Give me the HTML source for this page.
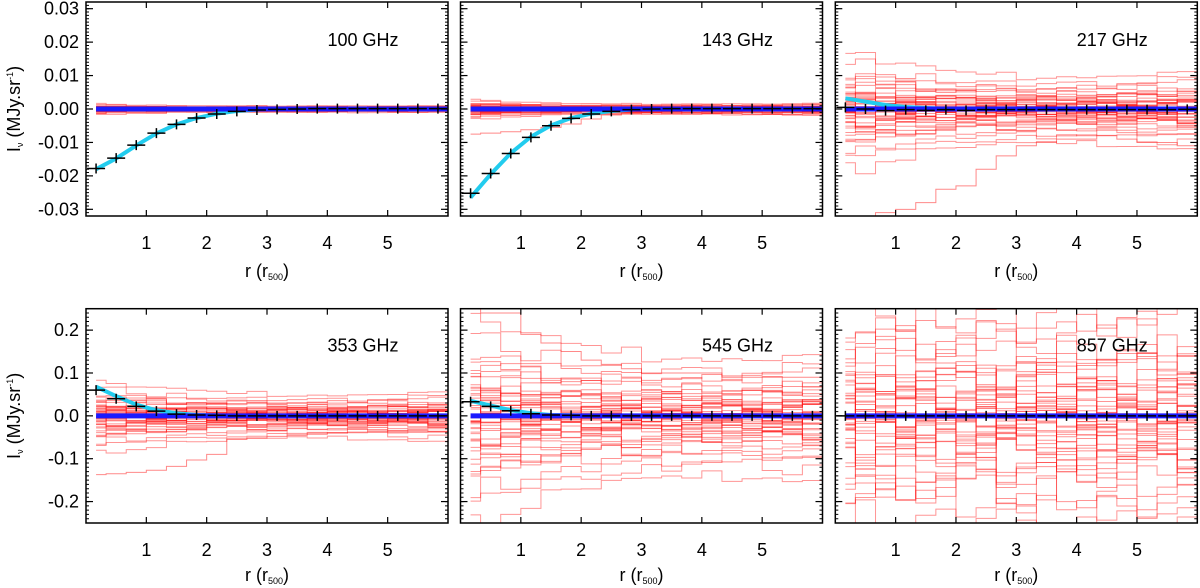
<!DOCTYPE html>
<html><head><meta charset="utf-8"><style>
html,body{margin:0;padding:0;background:#fff;overflow:hidden;width:1200px;height:588px;}
svg{display:block;font-family:"Liberation Sans",sans-serif;}
</style></head><body>
<svg id="chart" width="1200" height="588" viewBox="0 0 1200 588" xmlns="http://www.w3.org/2000/svg"></svg>
<script>
// ---- data ----
const freqLabels = ["100 GHz","143 GHz","217 GHz","353 GHz","545 GHz","857 GHz"];
const binCenters = [0.167,0.5,0.833,1.167,1.5,1.833,2.167,2.5,2.833,3.167,3.5,3.833,4.167,4.5,4.833,5.167,5.5,5.833];
const xTicks = [1,2,3,4,5];
const yTicksTop = [-0.03,-0.02,-0.01,0,0.01,0.02,0.03];
const yTickLabelsTop = ["-0.03","-0.02","-0.01","0.00","0.01","0.02","0.03"];
const yTicksBot = [-0.2,-0.1,0,0.1,0.2];
const yTickLabelsBot = ["-0.2","-0.1","0.0","0.1","0.2"];
const stack100 = [-0.0178,-0.0147,-0.0108,-0.0072,-0.0046,-0.0027,-0.0015,-0.0007,-0.0003,-0.0001,0,0.0001,0.0001,0.0001,0.0001,0.0001,0.0001,0.0001];
const stack143 = [-0.0252,-0.0193,-0.0133,-0.0085,-0.0050,-0.0028,-0.0015,-0.0007,-0.0002,0,0.0001,0.0001,0.0001,0.0001,0.0001,0.0001,0.0001,0.0001];
const stack217 = [0.0005,0,-0.0005,-0.0002,-0.0004,-0.0002,-0.0004,-0.0002,-0.0002,-0.0002,-0.0002,-0.0002,-0.0002,-0.0002,-0.0002,-0.0002,-0.0002,-0.0001];
const stack353 = [0.060,0.040,0.022,0.011,0.004,0.002,0.001,0,0,0,0,0,0,0,0,0,0,0];
const stack545 = [0.033,0.022,0.012,0.005,0.002,0.001,0,0,0,0,0,0,0,0,0,0,0,0];
const stack857 = [0,0,0,0,0,0,0,0,0,0,0,0,0,0,0,0,0,0];
const model100 = [-0.0180,-0.0148,-0.0109,-0.0073,-0.0046,-0.0027,-0.0014,-0.0006,-0.0002,0,0.0001,0.0001,0.0001,0.0001,0.0001,0.0001,0.0001,0.0001];
const model143 = [-0.0265,-0.0195,-0.0132,-0.0083,-0.0049,-0.0027,-0.0014,-0.0006,-0.0002,0,0.0001,0.0001,0.0001,0.0001,0.0001,0.0001,0.0001,0.0001];
const model217 = [0.0032,0.0022,0.0012,0.0006,0.0003,0.0001,0,0,0,0,0,0,0,0,0,0,0,0];
const model353 = [0.068,0.046,0.026,0.013,0.006,0.002,0.001,0,0,0,0,0,0,0,0,0,0,0];
const model545 = [0.035,0.024,0.013,0.006,0.002,0.001,0,0,0,0,0,0,0,0,0,0,0,0];
const model857 = [0,0,0,0,0,0,0,0,0,0,0,0,0,0,0,0,0,0];
const spread100 = [0.0008,0.0007,0.0006,0.0006,0.0005,0.0005,0.0005,0.0005,0.0005,0.0005,0.0005,0.0005,0.0005,0.0005,0.0005,0.0005,0.0005,0.0005];
const spread143 = [0.0014,0.0013,0.0011,0.0010,0.0009,0.0008,0.0008,0.0008,0.0008,0.0008,0.0008,0.0008,0.0008,0.0008,0.0008,0.0008,0.0008,0.0009];
const spread217 = [0.0080,0.0085,0.0072,0.0068,0.0062,0.0058,0.0054,0.0054,0.0052,0.0050,0.0050,0.0050,0.0050,0.0050,0.0052,0.0054,0.0056,0.0058];
const spread353 = [0.040,0.038,0.036,0.033,0.031,0.030,0.028,0.027,0.027,0.026,0.025,0.025,0.025,0.025,0.026,0.027,0.028,0.029];
const spread545 = [0.115,0.110,0.105,0.096,0.090,0.085,0.080,0.076,0.076,0.072,0.072,0.070,0.068,0.068,0.068,0.070,0.072,0.074];
const spread857 = [0.16,0.16,0.17,0.16,0.16,0.16,0.16,0.16,0.16,0.16,0.16,0.16,0.16,0.16,0.16,0.16,0.16,0.16];
const jitterScale = [0.3,0.3,0.3,0.3,0.3,0.45];
const curveLevels = [-2.1,-1.7,-1.45,-1.25,-1.1,-0.95,-0.82,-0.7,-0.6,-0.5,-0.42,-0.34,-0.26,-0.18,-0.1,-0.04,0.02,0.08,0.14,0.2,0.27,0.34,0.42,0.5,0.6,0.7,0.82,0.95,1.1,1.3,1.55,1.9,-0.3,0.3,-0.15,0.12,-0.55,0.45,-1.0,1.0,-0.22,0.05,-0.08,0.18,-0.38,0.38,0.0,-0.65,0.65,-0.12];
const curveJitter = [0.3,-0.2,0.5,-0.6,0.1,0.4,-0.3,-0.1,0.7,-0.5,0.2,-0.4,0.6,0.0,-0.7,0.3,-0.2,0.5,-0.1,0.2,-0.6,0.4,0.1,-0.3,0.6,-0.5,0.0,0.3,-0.4,0.2,0.5,-0.2,-0.6,0.1,0.4,-0.1,0.7,-0.3,0.2,-0.5,0.3];
const outlier143 = [-0.0075,-0.0072,-0.0068,-0.0062,-0.0055,-0.0045,-0.0030,-0.0018,-0.0012,-0.0010,-0.0010,-0.0012,-0.0014,-0.0014,-0.0016,-0.0016,-0.0018,-0.0018];
const outlier217 = [-0.032,-0.032,-0.031,-0.030,-0.028,-0.024,-0.023,-0.018,-0.014,-0.011,-0.010,-0.009,-0.009,-0.008,-0.009,-0.010,-0.010,-0.011];
const outlier353 = [-0.137,-0.135,-0.132,-0.127,-0.118,-0.103,-0.090,-0.055,-0.052,-0.048,-0.045,-0.043,-0.040,-0.038,-0.036,-0.035,-0.034,-0.036];
const outlier545 = [0.25,0.24,0.24,0.19,0.17,0.15,0.13,0.12,0.11,0.10,0.10,0.10,0.10,0.09,0.09,0.09,0.09,0.09];

const panels = [
 {stack:stack100,model:model100,spread:spread100,out:null,ymax:0.032,row:0,col:0},
 {stack:stack143,model:model143,spread:spread143,out:outlier143,ymax:0.032,row:0,col:1},
 {stack:stack217,model:model217,spread:spread217,out:outlier217,ymax:0.032,row:0,col:2},
 {stack:stack353,model:model353,spread:spread353,out:outlier353,ymax:0.25,row:1,col:0},
 {stack:stack545,model:model545,spread:spread545,out:outlier545,ymax:0.25,row:1,col:1},
 {stack:stack857,model:model857,spread:spread857,out:null,ymax:0.25,row:1,col:2}
];
const NS="http://www.w3.org/2000/svg";
const svg=document.getElementById('chart');
function mk(tag,attrs,parent){const e=document.createElementNS(NS,tag);for(const k in attrs)e.setAttribute(k,attrs[k]);(parent||svg).appendChild(e);return e;}
const lefts=[86,460.5,835.3], W=362;
const tops=[2,308.7], H=[214,214.3];
panels.forEach((p,i)=>{
  const L=lefts[p.col], T=tops[p.row], Hh=H[p.row];
  const g=mk('g',{});
  
  
  const xs=r=>L+r/6*W;
  const ys=v=>T+Hh/2 - v/p.ymax*(Hh/2);
  const clip=mk('clipPath',{id:'c'+i},g);
  mk('rect',{x:L,y:T,width:W,height:Hh},clip);
  const pg=mk('g',{'clip-path':'url(#c'+i+')'},g);
  function stepPath(vals){
    let d='M'+xs(binCenters[0])+','+ys(vals[0]);
    for(let b=0;b<vals.length;b++){
      const x1=b<vals.length-1?xs((b+1)/3):xs(6);
      d+=' L'+x1+','+ys(vals[b]);
      if(b<vals.length-1)d+=' L'+x1+','+ys(vals[b+1]);
    }
    return d;
  }
  const js=jitterScale[i];
  curveLevels.forEach((lv,ci)=>{
    const vals=p.spread.map((s,b)=>(lv+curveJitter[(ci*7+b*3)%curveJitter.length]*js)*s);
    const e=mk('path',{d:stepPath(vals),fill:'none',stroke:'rgba(255,20,20,0.45)','stroke-width':1},pg);
    
    
  });
  if(p.out){const e=mk('path',{d:stepPath(p.out),fill:'none',stroke:'rgba(255,20,20,0.5)','stroke-width':1},pg);
    
    }
  let d='';
  p.model.forEach((v,b)=>{d+=(b?' L':'M')+xs(binCenters[b])+','+ys(v);});
  d+=' L'+xs(6)+','+ys(p.model[p.model.length-1]);
  const cy=mk('path',{d:d,fill:'none',stroke:'#22ccee','stroke-width':4,'stroke-linejoin':'round'},pg);
  
  
  const bl=mk('line',{x1:xs(binCenters[0]),x2:xs(6),y1:ys(0),y2:ys(0),stroke:'#1a1aff','stroke-width':5},pg);
  
  
  p.stack.forEach((v,b)=>{
    const cx=xs(binCenters[b]),cyv=ys(v);
    const c=mk('path',{d:`M${cx-9},${cyv} L${cx+9},${cyv} M${cx},${cyv-5} L${cx},${cyv+5}`,stroke:'#000','stroke-width':1.5},pg);
    
    
  });
  mk('rect',{x:L,y:T,width:W,height:Hh,fill:'none',stroke:'#000','stroke-width':1.5},g);
  xTicks.forEach(t=>{
    const x=xs(t);
    mk('line',{x1:x,x2:x,y1:T+Hh,y2:T+Hh-6,stroke:'#000','stroke-width':1.2},g);
    mk('line',{x1:x,x2:x,y1:T,y2:T+6,stroke:'#000','stroke-width':1.2},g);
    const tl=mk('text',{x:x,y:T+Hh+33,'text-anchor':'middle','font-size':18},g);
    tl.textContent=t;
    
    
  });
  const yt=p.row?yTicksBot:yTicksTop, ytl=p.row?yTickLabelsBot:yTickLabelsTop;
  const minor=p.row?0.01:0.001;
  const nmin=Math.round(p.ymax/minor);
  let md='';
  for(let k=-nmin;k<=nmin;k++){const y=ys(k*minor);md+=`M${L},${y} L${L+3},${y} M${L+W},${y} L${L+W-3},${y} `;}
  mk('path',{d:md,stroke:'#000','stroke-width':1},g);
  yt.forEach((t,k)=>{
    const y=ys(t);
    mk('line',{x1:L,x2:L+7,y1:y,y2:y,stroke:'#000','stroke-width':1.2},g);
    mk('line',{x1:L+W,x2:L+W-7,y1:y,y2:y,stroke:'#000','stroke-width':1.2},g);
    if(p.col===0){const tl=mk('text',{x:L-7,y:y+6,'text-anchor':'end','font-size':18},g);
      tl.textContent=ytl[k];
      
      }
  });
  const fl=mk('text',{x:L+277,y:T+(p.row?43:44),'text-anchor':'middle','font-size':18},g);
  fl.textContent=freqLabels[i];
  
  
  const xt=mk('text',{x:L+W/2,y:T+Hh+(p.row?58:61),'text-anchor':'middle','font-size':18},g);
  xt.innerHTML='r (r<tspan font-size="9" dy="3">500</tspan><tspan dy="-3">)</tspan>';
  
  
  if(p.col===0){
    const yc=T+Hh/2;
    const ytt=mk('text',{x:0,y:0,'text-anchor':'middle','font-size':18,transform:`translate(20,${yc}) rotate(-90)`},g);
    ytt.innerHTML='I<tspan font-size="9" dy="3">ν</tspan><tspan dy="-3"> (MJy.sr</tspan><tspan font-size="9" dy="-7">-1</tspan><tspan dy="7">)</tspan>';
    
    
  }
});
</script>
</body></html>
